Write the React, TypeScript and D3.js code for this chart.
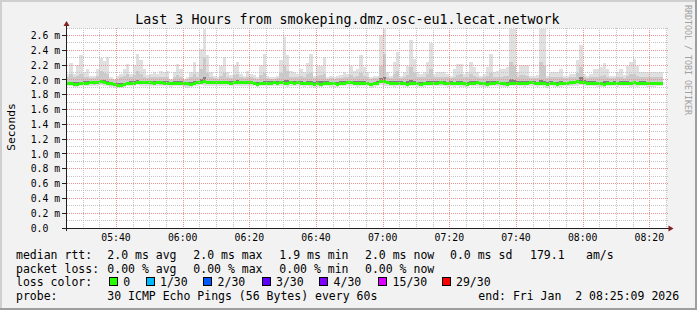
import React from "react";
import * as d3 from "d3";

// ---------- data (ms) ----------
const maxV = [
  2.09, 2.24, 2.09, 2.21, 2.34, 2.11, 2.15, 2.06, 2.06, 2.15, 2.30, 2.26, 2.31, 2.04, 2.02, 2.06, 2.09, 2.15, 2.22, 2.09,
  2.21, 2.36, 2.27, 2.15, 2.07, 2.09, 2.11, 2.09, 2.12, 2.11, 2.12, 2.02, 2.11, 2.22, 2.15, 2.02, 2.04, 2.11, 2.25, 2.11,
  2.43, 2.75, 2.34, 2.11, 2.06,
  2.04, 2.19, 2.32, 2.11, 2.07, 2.20, 2.25, 2.09, 2.06, 2.13, 2.08, 2.07, 2.04, 2.21, 2.35, 2.06, 2.04, 2.04, 2.06, 2.27,
  2.59, 2.34, 2.12, 2.11, 2.09, 2.16, 2.11, 2.24, 2.35, 2.06, 2.20, 2.20, 2.31, 2.04, 2.06, 2.04, 2.06, 2.07, 2.11, 2.09,
  2.20, 2.13, 2.16, 2.34, 2.18,
  2.11, 2.04, 2.06, 2.06, 2.61, 2.75, 2.11, 2.06, 2.25, 2.38, 2.06, 2.11, 2.20, 2.54, 2.29, 2.11, 2.09, 2.11, 2.25, 2.50,
  2.09, 2.11, 2.11, 2.11, 2.09, 2.06, 2.15, 2.22, 2.22, 2.09, 2.11, 2.25, 2.18, 2.11, 2.06, 2.09, 2.18, 2.35, 2.11, 2.13,
  2.15, 2.16, 2.18, 2.75,
  2.75, 2.11, 2.21, 2.21, 2.21, 2.06, 2.06, 2.07, 2.75, 2.75, 2.06, 2.11, 2.11, 2.11, 2.15, 2.06, 2.06, 2.09, 2.09, 2.27,
  2.48, 2.09, 2.06, 2.09, 2.15, 2.15, 2.18, 2.23, 2.15, 2.06, 2.06, 2.11, 2.16, 2.07, 2.20, 2.25, 2.29, 2.20, 2.11, 2.11,
  2.11, 2.11, 2.11, 2.11, 2.11,
];

const upV = [
  2.04, 2.08, 2.05, 2.06, 2.09, 2.04, 2.05, 2.03, 2.03, 2.06, 2.12, 2.10, 2.08, 2.02, 2.01, 2.02, 2.04, 2.06, 2.08, 2.04,
  2.07, 2.12, 2.09, 2.05, 2.03, 2.04, 2.05, 2.04, 2.05, 2.04, 2.05, 2.01, 2.04, 2.07, 2.05, 2.01, 2.02, 2.04, 2.08, 2.05,
  2.15, 2.30, 2.10, 2.04, 2.03,
  2.02, 2.06, 2.10, 2.04, 2.03, 2.07, 2.08, 2.04, 2.03, 2.05, 2.04, 2.03, 2.02, 2.07, 2.10, 2.03, 2.02, 2.02, 2.03, 2.10,
  2.20, 2.12, 2.05, 2.04, 2.04, 2.06, 2.04, 2.08, 2.10, 2.03, 2.06, 2.07, 2.09, 2.02, 2.03, 2.02, 2.03, 2.03, 2.04, 2.04,
  2.07, 2.05, 2.06, 2.10, 2.06,
  2.04, 2.02, 2.03, 2.03, 2.20, 2.35, 2.04, 2.03, 2.08, 2.12, 2.03, 2.04, 2.07, 2.18, 2.10, 2.04, 2.04, 2.04, 2.08, 2.15,
  2.04, 2.04, 2.04, 2.04, 2.04, 2.03, 2.05, 2.07, 2.08, 2.04, 2.04, 2.08, 2.06, 2.04, 2.03, 2.04, 2.06, 2.10, 2.04, 2.05,
  2.05, 2.06, 2.06, 2.25,
  2.20, 2.04, 2.07, 2.07, 2.06, 2.03, 2.03, 2.03, 2.25, 2.20, 2.03, 2.04, 2.04, 2.04, 2.05, 2.03, 2.03, 2.04, 2.04, 2.10,
  2.18, 2.04, 2.03, 2.04, 2.05, 2.05, 2.06, 2.07, 2.05, 2.03, 2.03, 2.04, 2.05, 2.03, 2.06, 2.08, 2.09, 2.06, 2.04, 2.04,
  2.04, 2.04, 2.04, 2.04, 2.04,
];

const darkHi = [
  1.98, 1.98, 1.975, 1.975, 1.98, 1.985, 1.99, 1.99, 1.99, 1.995, 2.01, 2.00, 1.99, 1.98, 1.965, 1.96, 1.96, 1.97, 1.98, 1.985,
  1.995, 2.00, 1.995, 1.99, 1.99, 1.985, 1.99, 1.99, 1.985, 1.985, 1.985, 1.98, 1.985, 1.99, 1.985, 1.98, 1.975, 1.98, 1.99, 1.99,
  2.02, 2.04, 1.995, 1.99, 1.99,
  1.99, 1.99, 1.995, 1.99, 1.985, 1.99, 2.00, 1.995, 1.99, 1.99, 1.995, 1.98, 1.975, 1.98, 1.985, 1.985, 1.985, 1.99, 1.985, 1.995,
  2.01, 2.00, 1.99, 1.99, 1.985, 1.99, 1.98, 1.985, 1.985, 1.975, 1.985, 1.985, 1.99, 1.985, 1.98, 1.975, 1.98, 1.985, 1.99, 1.99,
  1.995, 1.99, 1.985, 1.99, 1.985,
  1.98, 1.965, 1.98, 1.985, 2.03, 2.04, 1.99, 1.985, 1.985, 1.99, 1.985, 1.98, 1.985, 2.00, 1.995, 1.98, 1.975, 1.98, 1.99, 1.995,
  1.985, 1.99, 1.985, 1.985, 1.98, 1.985, 1.98, 1.985, 1.985, 1.975, 1.98, 1.99, 1.99, 1.985, 1.98, 1.975, 1.985, 1.995, 1.99, 1.985,
  1.98, 1.975, 1.98, 2.02,
  2.01, 1.985, 1.99, 1.985, 1.985, 1.99, 1.985, 1.98, 2.00, 1.995, 1.975, 1.985, 1.98, 1.975, 1.985, 1.98, 1.975, 1.98, 1.985, 2.00,
  2.04, 2.00, 1.995, 1.99, 1.985, 1.98, 1.98, 1.985, 1.985, 1.98, 1.985, 1.98, 1.985, 1.985, 1.985, 1.98, 1.985, 1.98, 1.985, 1.985,
  1.98, 1.98, 1.98, 1.98, 1.98,
];

const medianV = [
  1.955, 1.955, 1.95, 1.95, 1.955, 1.96, 1.96, 1.965, 1.965, 1.97, 1.98, 1.975, 1.96, 1.955, 1.94, 1.935, 1.935, 1.94, 1.955, 1.96,
  1.96, 1.97, 1.975, 1.97, 1.97, 1.965, 1.96, 1.965, 1.965, 1.96, 1.96, 1.96, 1.955, 1.96, 1.96, 1.96, 1.955, 1.945, 1.955, 1.965,
  1.965, 1.98, 1.975, 1.965, 1.965,
  1.965, 1.965, 1.97, 1.965, 1.96, 1.965, 1.97, 1.97, 1.965, 1.965, 1.97, 1.955, 1.95, 1.955, 1.955, 1.96, 1.96, 1.965, 1.96, 1.965,
  1.96, 1.955, 1.965, 1.96, 1.965, 1.96, 1.955, 1.96, 1.955, 1.95, 1.955, 1.95, 1.955, 1.96, 1.96, 1.955, 1.95, 1.955, 1.96, 1.965,
  1.965, 1.96, 1.955, 1.96, 1.96,
  1.955, 1.94, 1.955, 1.96, 1.985, 1.98, 1.965, 1.96, 1.955, 1.96, 1.96, 1.955, 1.95, 1.96, 1.96, 1.955, 1.95, 1.955, 1.96, 1.96,
  1.955, 1.96, 1.965, 1.96, 1.96, 1.955, 1.96, 1.955, 1.96, 1.955, 1.95, 1.955, 1.96, 1.965, 1.96, 1.955, 1.95, 1.955, 1.96, 1.965,
  1.96, 1.955, 1.95, 1.955,
  1.955, 1.96, 1.96, 1.955, 1.96, 1.965, 1.96, 1.955, 1.96, 1.955, 1.95, 1.96, 1.955, 1.95, 1.955, 1.96, 1.96, 1.965, 1.975, 1.98,
  1.97, 1.965, 1.96, 1.96, 1.955, 1.96, 1.955, 1.95, 1.955, 1.96, 1.96, 1.955, 1.96, 1.96, 1.955, 1.96, 1.965, 1.96, 1.955, 1.96,
  1.955, 1.96, 1.96, 1.955, 1.955,
];

const loV = [
  1.94, 1.94, 1.93, 1.93, 1.94, 1.94, 1.945, 1.95, 1.94, 1.95, 1.955, 1.95, 1.94, 1.93, 1.92, 1.92, 1.92, 1.93, 1.94, 1.945,
  1.95, 1.955, 1.95, 1.95, 1.945, 1.94, 1.945, 1.95, 1.94, 1.94, 1.94, 1.935, 1.94, 1.94, 1.94, 1.93, 1.925, 1.935, 1.945, 1.95,
  1.96, 1.955, 1.95, 1.945, 1.945,
  1.945, 1.945, 1.95, 1.945, 1.94, 1.945, 1.95, 1.95, 1.945, 1.945, 1.95, 1.935, 1.93, 1.935, 1.935, 1.94, 1.94, 1.945, 1.94, 1.945,
  1.94, 1.935, 1.945, 1.94, 1.945, 1.94, 1.935, 1.94, 1.935, 1.93, 1.935, 1.93, 1.935, 1.94, 1.94, 1.935, 1.93, 1.935, 1.94, 1.945,
  1.945, 1.94, 1.935, 1.94, 1.94,
  1.935, 1.92, 1.935, 1.94, 1.96, 1.955, 1.945, 1.94, 1.935, 1.94, 1.94, 1.935, 1.93, 1.94, 1.94, 1.935, 1.93, 1.935, 1.94, 1.94,
  1.94, 1.945, 1.94, 1.94, 1.935, 1.94, 1.935, 1.94, 1.935, 1.93, 1.935, 1.94, 1.945, 1.94, 1.935, 1.93, 1.935, 1.94, 1.945, 1.94,
  1.935, 1.93, 1.935, 1.94,
  1.935, 1.94, 1.94, 1.935, 1.94, 1.945, 1.94, 1.935, 1.94, 1.935, 1.93, 1.94, 1.935, 1.93, 1.935, 1.94, 1.94, 1.94, 1.945, 1.955,
  1.96, 1.95, 1.945, 1.94, 1.94, 1.935, 1.93, 1.935, 1.94, 1.94, 1.94, 1.935, 1.94, 1.935, 1.94, 1.935, 1.94, 1.935, 1.94, 1.94,
  1.935, 1.935, 1.935, 1.94, 1.94,
];

const minV = [
  1.92, 1.92, 1.91, 1.91, 1.92, 1.92, 1.93, 1.93, 1.92, 1.93, 1.94, 1.93, 1.92, 1.91, 1.90, 1.90, 1.90, 1.91, 1.92, 1.93,
  1.93, 1.94, 1.93, 1.93, 1.92, 1.92, 1.93, 1.93, 1.92, 1.92, 1.92, 1.91, 1.92, 1.92, 1.92, 1.91, 1.90, 1.91, 1.93, 1.93,
  1.94, 1.93, 1.93, 1.92, 1.93,
  1.93, 1.93, 1.93, 1.93, 1.92, 1.93, 1.93, 1.93, 1.92, 1.93, 1.93, 1.92, 1.91, 1.92, 1.92, 1.92, 1.92, 1.93, 1.92, 1.93,
  1.92, 1.91, 1.92, 1.93, 1.92, 1.92, 1.91, 1.92, 1.91, 1.90, 1.91, 1.91, 1.92, 1.92, 1.91, 1.90, 1.91, 1.92, 1.92, 1.93,
  1.93, 1.92, 1.91, 1.92, 1.92,
  1.92, 1.90, 1.91, 1.92, 1.94, 1.93, 1.93, 1.92, 1.91, 1.92, 1.92, 1.91, 1.91, 1.92, 1.92, 1.91, 1.91, 1.91, 1.92, 1.92,
  1.92, 1.93, 1.92, 1.92, 1.91, 1.92, 1.91, 1.92, 1.91, 1.91, 1.91, 1.92, 1.93, 1.92, 1.91, 1.91, 1.91, 1.92, 1.93, 1.92,
  1.91, 1.91, 1.91, 1.92,
  1.92, 1.92, 1.92, 1.91, 1.92, 1.93, 1.92, 1.91, 1.92, 1.91, 1.90, 1.92, 1.91, 1.91, 1.91, 1.92, 1.92, 1.92, 1.93, 1.93,
  1.94, 1.93, 1.92, 1.92, 1.92, 1.91, 1.91, 1.91, 1.92, 1.92, 1.92, 1.91, 1.92, 1.92, 1.92, 1.91, 1.92, 1.91, 1.92, 1.92,
  1.91, 1.91, 1.91, 1.92, 1.92,
];

const yTickValues = [0, 0.2, 0.4, 0.6, 0.8, 1.0, 1.2, 1.4, 1.6, 1.8, 2.0, 2.2, 2.4, 2.6];
const title = "Last 3 Hours from smokeping.dmz.osc-eu1.lecat.network";
const yLabel = "Seconds";
const lossLabels = ["0", "1/30", "2/30", "3/30", "4/30", "15/30", "29/30"];
const lossColors = ["#26ff00", "#00b8ff", "#0059ff", "#5e00ff", "#7e00ff", "#dd00ff", "#ff0000"];

const tStart = Date.UTC(2026, 0, 2, 5, 25, 9);
const tEnd = Date.UTC(2026, 0, 2, 8, 25, 9);
const firstStep = Date.UTC(2026, 0, 2, 5, 25, 0);

const W = 697;
const H = 310;
const X0 = 66.5;
const X1 = 666.5;
const YB = 228.5;
const YT = 28.5;
const MONO = "'DejaVu Sans Mono', monospace";
const MINOR = "#c4c4c4";
const MAJOR = "#ea9494";

// dotted line as a path of 1x1 squares (every other pixel)
function hDots(row: number, xa: number, xb: number) {
  let d = "";
  for (let px = xa; px < xb; px += 2) d += `M${px},${row}h1v1h-1z`;
  return d;
}
function vDots(col: number, ya: number, yb: number) {
  let d = "";
  for (let py = ya; py < yb; py += 2) d += `M${col},${py}h1v1h-1z`;
  return d;
}

export default function App() {
  const x = d3.scaleUtc().domain([new Date(tStart), new Date(tEnd)]).range([X0, X1]);
  const y = d3.scaleLinear().domain([0, 2.7]).range([YB, YT]);
  const n = Math.min(maxV.length, medianV.length, minV.length, upV.length, loV.length, darkHi.length);
  const cols = d3.range(n).map((i) => {
    const a = Math.max(X0 + 0.5, x(new Date(firstStep + i * 60000)));
    const b = Math.min(X1, x(new Date(firstStep + (i + 1) * 60000)));
    return { i, a: Math.round(a), b: Math.round(b) };
  });
  const cy = (v: number) => Math.max(YT, y(v));

  const minorX = x.ticks(d3.utcMinute.every(5) as any);
  const majorX = x.ticks(d3.utcMinute.every(20) as any);
  const majorSet = new Set(majorX.map((t: Date) => +t));
  const fmt = d3.utcFormat("%H:%M");
  const hLines = d3.range(1, 28).map((k) => ({ v: k / 10, major: k % 2 === 0 }));

  const legendY = [259, 272.5, 286.3, 300];
  const boxX = [109, 145.7, 203.3, 261.7, 319.3, 378.3, 441.7];
  const gx0 = 67;
  const gx1 = 669;
  const gy0 = 28;
  const gy1 = 228;

  let minorPath = "";
  let majorPath = "";
  hLines.forEach((h) => {
    const row = Math.round(y(h.v)) - 1;
    if (h.major) majorPath += hDots(row, gx0, gx1);
    else minorPath += hDots(row, gx0, gx1);
  });
  minorX.forEach((t: Date) => {
    if (majorSet.has(+t)) return;
    minorPath += vDots(Math.round(x(t)), gy0, gy1);
  });
  majorX.forEach((t: Date) => {
    majorPath += vDots(Math.round(x(t)), gy0, gy1);
  });

  return (
    <svg width={W} height={H} style={{ position: "absolute", left: 0, top: 0 }} xmlns="http://www.w3.org/2000/svg">
      <rect x={0} y={0} width={W} height={H} fill="#f2f2f2" />
      <rect x={0} y={0} width={W} height={2} fill="#cfcfcf" />
      <rect x={0} y={0} width={2} height={H} fill="#cfcfcf" />
      <rect x={0} y={H - 2} width={W} height={2} fill="#9e9e9e" />
      <rect x={W - 2} y={0} width={2} height={H} fill="#9e9e9e" />
      <rect x={X0} y={YT} width={X1 - X0} height={YB - YT} fill="#ffffff" />

      {/* smoke */}
      <g shapeRendering="crispEdges">
        {cols.map((c) => (
          <rect key={"l" + c.i} x={c.a} width={c.b - c.a} y={cy(maxV[c.i])} height={y(minV[c.i]) - cy(maxV[c.i])} fill="#e0e0e0" />
        ))}
        {cols.map((c) => (
          <rect key={"m" + c.i} x={c.a} width={c.b - c.a} y={cy(upV[c.i])} height={y(loV[c.i]) - cy(upV[c.i])} fill="#cacaca" />
        ))}
        {cols.map((c) => (
          <rect key={"d" + c.i} x={c.a} width={c.b - c.a} y={y(darkHi[c.i])} height={y(medianV[c.i] - 0.02) - y(darkHi[c.i])} fill="#808080" />
        ))}
        {cols.map((c) => (
          <rect key={"g" + c.i} x={c.a} width={c.b - c.a} y={Math.round(y(medianV[c.i]) - 1.5)} height={3} fill={lossColors[0]} />
        ))}
      </g>

      {/* dotted grid */}
      <path d={minorPath} fill={MINOR} shapeRendering="crispEdges" />
      <path d={majorPath} fill={MAJOR} shapeRendering="crispEdges" />
      <g shapeRendering="crispEdges">
        {yTickValues.map((v) => {
          const row = Math.round(y(v)) - 1;
          return <rect key={"yt" + v} x={62} y={row} width={4} height={1} fill="#1f1f1f" />;
        })}
      </g>

      {/* axes */}
      <line x1={X0 - 2} x2={X1 + 4} y1={YB} y2={YB} stroke="#1f1f1f" strokeWidth={1} shapeRendering="crispEdges" />
      <line x1={X0} x2={X0} y1={YB + 2} y2={YT - 4} stroke="#1f1f1f" strokeWidth={1} shapeRendering="crispEdges" />
      <path d={`M${X1 + 2},${YB - 3}L${X1 + 7},${YB}L${X1 + 2},${YB + 3}Z`} fill="#801f1f" />
      <path d={`M${X0 - 3},${YT - 2.5}L${X0},${YT - 7.5}L${X0 + 3},${YT - 2.5}Z`} fill="#801f1f" />

      {/* tick labels */}
      <g fontFamily={MONO} fontSize={9.8} fill="#000">
        {yTickValues.map((v) => (
          <text key={"yl" + v} x={30.7} y={y(v) + 3.2}>
            {v === 0 ? "0.0" : `${v.toFixed(1)} m`}
          </text>
        ))}
        {majorX.map((t) => (
          <text key={"xl" + +t} x={x(t)} y={241.3} textAnchor="middle">
            {fmt(t as Date)}
          </text>
        ))}
      </g>

      <text x={347.5} y={24} textAnchor="middle" fontFamily={MONO} fontSize={13.3} fill="#000">
        {title}
      </text>
      <text transform="translate(15,127) rotate(-90)" textAnchor="middle" fontFamily={MONO} fontSize={11.3} fill="#000">
        {yLabel}
      </text>
      <text transform="translate(684.8,60) rotate(90)" textAnchor="middle" fontFamily={MONO} fontSize={8.3} fill="#a0a0a0">
        RRDTOOL / TOBI OETIKER
      </text>

      {/* legend */}
      <g fontFamily={MONO} fontSize={11.5} fill="#000" style={{ whiteSpace: "pre" }}>
        <text x={16} y={legendY[0]}>median rtt:</text>
        <text x={107.3} y={legendY[0]}>2.0 ms avg</text>
        <text x={193.3} y={legendY[0]}>2.0 ms max</text>
        <text x={279.3} y={legendY[0]}>1.9 ms min</text>
        <text x={365} y={legendY[0]}>2.0 ms now</text>
        <text x={450} y={legendY[0]}>0.0 ms sd</text>
        <text x={530} y={legendY[0]}>179.1</text>
        <text x={586} y={legendY[0]}>am/s</text>

        <text x={16} y={legendY[1]}>packet loss:</text>
        <text x={107.3} y={legendY[1]}>0.00 % avg</text>
        <text x={193.3} y={legendY[1]}>0.00 % max</text>
        <text x={279.3} y={legendY[1]}>0.00 % min</text>
        <text x={365} y={legendY[1]}>0.00 % now</text>

        <text x={16} y={legendY[2]}>loss color:</text>
        {lossLabels.map((l, i) => (
          <g key={"lc" + l}>
            <rect x={Math.round(boxX[i]) + 0.5} y={277.5} width={8} height={8} fill={lossColors[i]} stroke="#000" strokeWidth={1} shapeRendering="crispEdges" />
            <text x={boxX[i] + 14.3} y={legendY[2]}>{l}</text>
          </g>
        ))}

        <text x={16} y={legendY[3]}>probe:</text>
        <text x={107.3} y={legendY[3]}>30 ICMP Echo Pings (56 Bytes) every 60s</text>
        <text x={478.3} y={legendY[3]} xmlSpace="preserve">{"end: Fri Jan  2 08:25:09 2026"}</text>
      </g>
    </svg>
  );
}
